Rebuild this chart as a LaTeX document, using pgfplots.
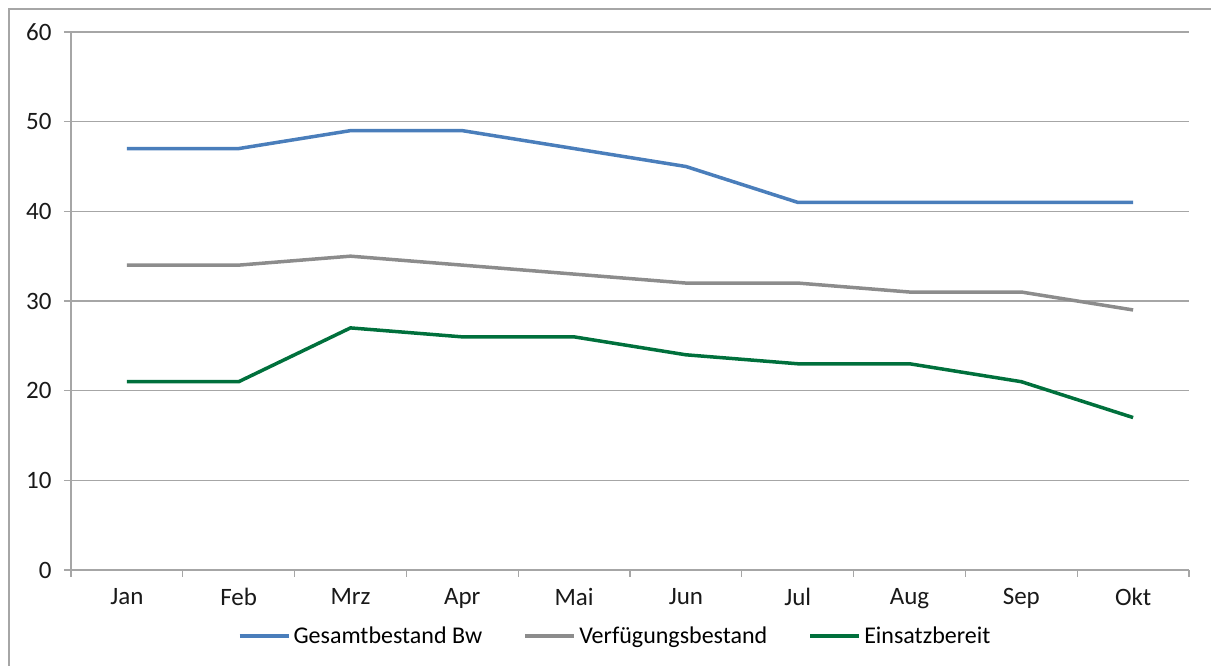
\documentclass[border=0pt]{standalone}
\usepackage{fontspec}
\setmainfont{Carlito}
\usepackage{pgfplots}
\pgfplotsset{compat=1.18}

\definecolor{bwblue}{HTML}{4A7EBB}
\definecolor{bwgray}{HTML}{8C8C8C}
\definecolor{bwgreen}{HTML}{00703C}
\definecolor{framegray}{HTML}{A6A6A6}

\pgfplotstableread{
idx gesamt verfuegung einsatz
0   47     34         21
1   47     34         21
2   49     35         27
3   49     34         26
4   47     33         26
5   45     32         24
6   41     32         23
7   41     31         23
8   41     31         21
9   41     29         17
}\bestand

\begin{document}
\begin{tikzpicture}[x=1pt,y=1pt]
\useasboundingbox (0,0) rectangle (1211,666);
% outer chart frame
\draw[framegray, line width=2.5pt] (9,-5) -- (9,657) -- (1216,657);
\begin{axis}[
  at={(71pt,96pt)}, anchor=south west,
  scale only axis, width=1118pt, height=538pt,
  xmin=-0.5, xmax=9.5, ymin=0, ymax=60,
  axis x line*=bottom, axis y line*=left,
  axis line style={framegray, line width=1.3pt},
  ytick={0,10,...,60},
  ymajorgrids, grid style={framegray, line width=1.3pt},
  xtick={-0.5,0.5,1.5,2.5,3.5,4.5,5.5,6.5,7.5,8.5,9.5},
  xticklabel=\empty,
  extra x ticks={0,1,2,3,4,5,6,7,8,9},
  extra x tick labels={Jan,Feb,Mrz,Apr,Mai,Jun,Jul,Aug,Sep,Okt},
  extra x tick style={major tick length=0pt},
  tick align=outside, major tick length=7pt,
  tick style={framegray, line width=1.3pt},
  /pgf/number format/assume math mode=true,
  ticklabel style={font=\fontsize{25}{30}\selectfont, text=black!90},
  xticklabel style={yshift=-15pt},
  yticklabel style={xshift=-9pt},
  legend columns=3,
  legend style={at={(0.487,-0.1227)}, anchor=center, draw=none, fill=none,
    font=\fontsize{24}{29}\selectfont,
    nodes={inner sep=3pt},
    /tikz/every even column/.append style={column sep=38pt}},
  legend image code/.code={\draw[#1, line width=4pt] (0pt,0pt) -- (49pt,0pt);},
]
\addplot[bwblue, line width=3.5pt] table[x=idx, y=gesamt] {\bestand};
\addlegendentry{Gesamtbestand Bw}
\addplot[bwgray, line width=3.5pt] table[x=idx, y=verfuegung] {\bestand};
\addlegendentry{Verfügungsbestand}
\addplot[bwgreen, line width=3.5pt] table[x=idx, y=einsatz] {\bestand};
\addlegendentry{Einsatzbereit}
\end{axis}
\end{tikzpicture}
\end{document}
